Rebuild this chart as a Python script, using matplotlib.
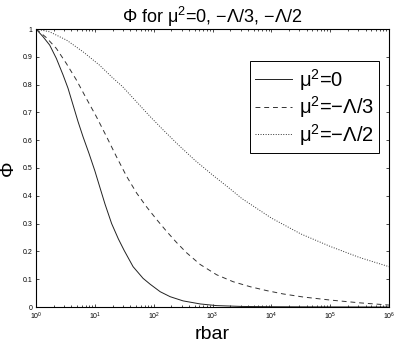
import numpy as np
import matplotlib
matplotlib.use("Agg")
import matplotlib.pyplot as plt
from matplotlib import ticker

plt.rcParams['font.family'] = ['Liberation Sans', 'DejaVu Sans']
plt.rcParams['mathtext.fontset'] = 'custom'
plt.rcParams['mathtext.rm'] = 'Liberation Sans'
plt.rcParams['mathtext.it'] = 'Liberation Sans:italic'
plt.rcParams['mathtext.bf'] = 'Liberation Sans:bold'

# ---- data ----
rbar_solid = [1, 1.32, 1.71, 2.22, 2.88, 3.5, 4.26, 5.18, 6.31, 7.94, 10, 12.2, 14.9,
              19.3, 25.1, 31.6, 44.7, 66.1, 87.1, 129, 191, 316, 617, 1175, 3162,
              1e4, 1e5, 1e6]
phi_solid = [1.0, 0.972, 0.942, 0.894, 0.835, 0.787, 0.727, 0.667, 0.612, 0.553, 0.49,
             0.43, 0.37, 0.30, 0.245, 0.203, 0.145, 0.103, 0.082, 0.055, 0.037, 0.022,
             0.011, 0.005, 0.002, 0.001, 0.0003, 0.0]

rbar_dash = [1, 1.5, 2.22, 3.28, 4.85, 7.18, 10.6, 15.8, 23.4, 34.7, 51.3, 75.9, 112,
             166, 245, 363, 617, 1175, 2239, 4365, 8318, 15849, 34674, 1e5, 316228, 1e6]
phi_dash = [1.0, 0.969, 0.93, 0.876, 0.817, 0.75, 0.685, 0.613, 0.54, 0.47, 0.41, 0.36,
            0.315, 0.272, 0.232, 0.195, 0.153, 0.116, 0.091, 0.073, 0.059, 0.047, 0.036,
            0.025, 0.015, 0.007]

rbar_dot = [1, 1.7, 3.31, 6.31, 12, 20.4, 29.5, 50.1, 87.1, 145, 263, 501, 1000, 1862,
            3162, 1e4, 31623, 1e5, 316228, 1e6]
phi_dot = [1.0, 0.99, 0.96, 0.918, 0.87, 0.823, 0.793, 0.74, 0.685, 0.637, 0.583, 0.528,
           0.475, 0.43, 0.39, 0.32, 0.263, 0.218, 0.178, 0.145]

labels = ['\u03bc$^2$=0', '\u03bc$^2$=\u2212\u039b/3', '\u03bc$^2$=\u2212\u039b/2']
title = '\u03a6 for \u03bc$^2$=0, \u2212\u039b/3, \u2212\u039b/2'
xlabel = 'rbar'
ylabel = '\u03a6'
yticks = [0, 0.1, 0.2, 0.3, 0.4, 0.5, 0.6, 0.7, 0.8, 0.9, 1.0]
xticks = [1e0, 1e1, 1e2, 1e3, 1e4, 1e5, 1e6]

# ---- figure ----
fig = plt.figure(figsize=(3.98, 3.46), dpi=100)
ax = fig.add_axes([36/398, 39/346, 353/398, 278/346])

lw = 0.7
ax.plot(rbar_solid, phi_solid, color='#222222', lw=lw, ls='-', label=labels[0])
ax.plot(rbar_dash, phi_dash, color='#333333', lw=lw, ls=(0, (5, 4)), label=labels[1])
ax.plot(rbar_dot, phi_dot, color='#333333', lw=lw, ls=(0, (1, 1.6)), label=labels[2])

ax.set_xscale('log')
ax.set_xlim(1, 1e6)
ax.set_ylim(0, 1)
ax.set_xticks(xticks)
ax.xaxis.set_major_formatter(ticker.LogFormatterMathtext())
ax.xaxis.set_minor_locator(ticker.LogLocator(base=10, subs=np.arange(2, 10), numticks=20))
ax.xaxis.set_minor_formatter(ticker.NullFormatter())
ax.set_yticks(yticks)
ax.yaxis.set_major_formatter(ticker.FormatStrFormatter('%g'))

ax.tick_params(which='both', direction='in', top=True, right=True, labelsize=5,
               width=0.5, colors='black')
ax.tick_params(which='major', length=2.2, pad=2.5)
ax.tick_params(which='minor', length=1.3)
for s in ax.spines.values():
    s.set_linewidth(0.8)

ax.set_title(title, fontsize=13, pad=4)
ax.set_xlabel(xlabel, fontsize=14, labelpad=3)
ax.set_ylabel(ylabel, fontsize=14, labelpad=4)

leg = ax.legend(loc='upper right', bbox_to_anchor=(0.973, 0.885), fontsize=14.5,
                frameon=True, fancybox=False, edgecolor='black', framealpha=1,
                handlelength=1.8, handletextpad=0.35, labelspacing=0.08,
                borderpad=0.28, borderaxespad=0)
leg.get_frame().set_linewidth(0.7)

fig.savefig('out.png', dpi=100)
